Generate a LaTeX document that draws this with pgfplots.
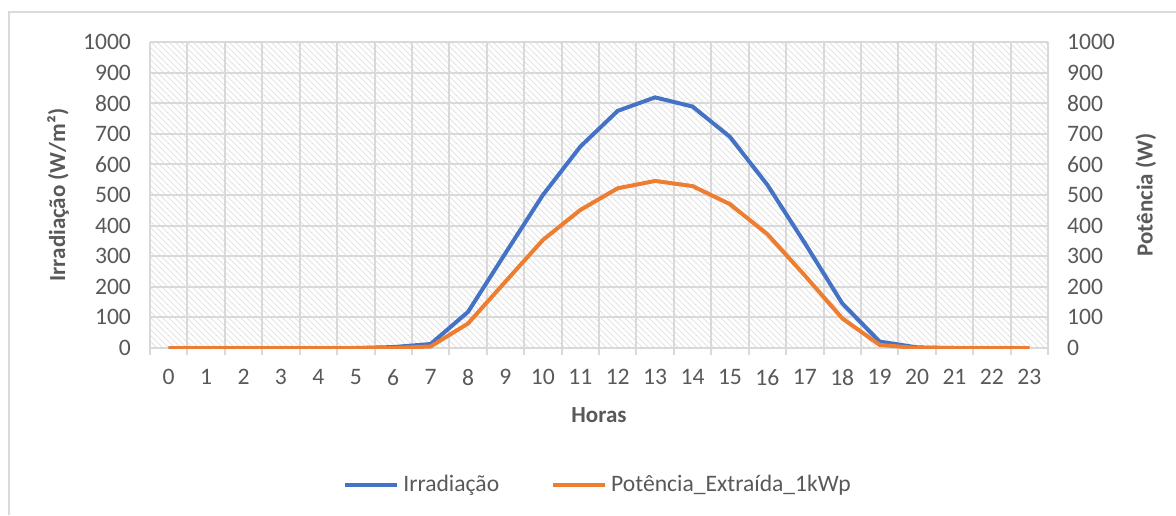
\documentclass[border=0pt]{standalone}
\usepackage{pgfplots}
\pgfplotsset{compat=1.18}
\usepackage{fontspec}
\setmainfont{Carlito}
\usetikzlibrary{patterns}

\definecolor{xlblue}{HTML}{4472C4}
\definecolor{xlorange}{HTML}{ED7D31}
\definecolor{xlgrid}{HTML}{D9D9D9}
\definecolor{xltext}{HTML}{595959}

\pgfplotsset{
  common/.style={
    scale only axis,
    width=449pt, height=153pt,
    xmin=-0.5, xmax=23.5,
    ymin=0, ymax=1000,
    ytick={0,100,...,1000},
    xtick={0,...,23},
    minor xtick={-0.5,0.5,...,23.5},
    tick label style={font=\fontsize{11.8}{13}\selectfont, text=xltext},
    label style={font=\bfseries\fontsize{11.5}{13}\selectfont, text=xltext},
    /pgf/number format/assume math mode=true,
    /pgf/number format/1000 sep={},
    scaled y ticks=false,
    axis line style={draw=xlgrid, line width=1pt},
    major tick length=0pt,
    minor tick length=3.5pt,
    tick align=outside,
    minor x tick style={draw=xlgrid, line width=1pt},
    grid style={draw=xlgrid, line width=1pt},
    minor grid style={draw=xlgrid, line width=1pt},
    at={(75pt,83.5pt)}, anchor=south west,
  }
}

\begin{document}
\begin{tikzpicture}[x=1pt,y=1pt]
\path[use as bounding box] (0,0) rectangle (588,257.5);
\draw[xlgrid, line width=1pt] (4.5,0) -- (4.5,251.5) -- (588,251.5);

\begin{axis}[
  common,
  axis background/.style={pattern=north west lines, pattern color=black!11},
  axis x line*=bottom,
  axis y line*=left,
  ymajorgrids, xminorgrids,
  xticklabel style={yshift=-7pt},
  yticklabel style={xshift=-6pt},
  xlabel={Horas},
  xlabel style={at={(axis description cs:0.5,-0.219)}, anchor=center},
  ylabel={Irradiação (W/m²)},
  ylabel style={at={(axis description cs:-0.1024,0.5)}, anchor=center},
  legend style={at={(axis description cs:0.5,-0.448)}, anchor=center,
    draw=none, fill=none, legend columns=2,
    font=\fontsize{11.8}{13}\selectfont, text=xltext,
    /tikz/every even column/.append style={column sep=24pt}},
  legend image code/.code={\draw[#1, line width=2pt] (0pt,0pt) -- (26pt,0pt);},
]
\addplot[xlblue, line width=2pt] coordinates {
(0,0) (1,0) (2,0) (3,0) (4,0) (5,0) (6,3) (7,13) (8,118) (9,310)
(10,500) (11,658) (12,775) (13,819) (14,789) (15,690) (16,533) (17,343)
(18,146) (19,21) (20,2) (21,0) (22,0) (23,0)
};
\addlegendentry{Irradiação}
\addlegendimage{xlorange, line width=2pt}
\addlegendentry{Potência\_Extraída\_1kWp}
\end{axis}

\begin{axis}[
  common,
  axis x line=none,
  axis y line*=right,
  yticklabel style={xshift=6pt, anchor=west},
  ylabel={Potência (W)},
  ylabel style={at={(axis description cs:1.109,0.5)}, anchor=center, rotate=0},
]
\addplot[xlorange, line width=2pt] coordinates {
(0,0) (1,0) (2,0) (3,0) (4,0) (5,0) (6,0) (7,5) (8,80) (9,217)
(10,353) (11,451) (12,522) (13,546) (14,529) (15,470) (16,372) (17,237)
(18,97) (19,10) (20,0) (21,0) (22,0) (23,0)
};
\end{axis}
\end{tikzpicture}
\end{document}
